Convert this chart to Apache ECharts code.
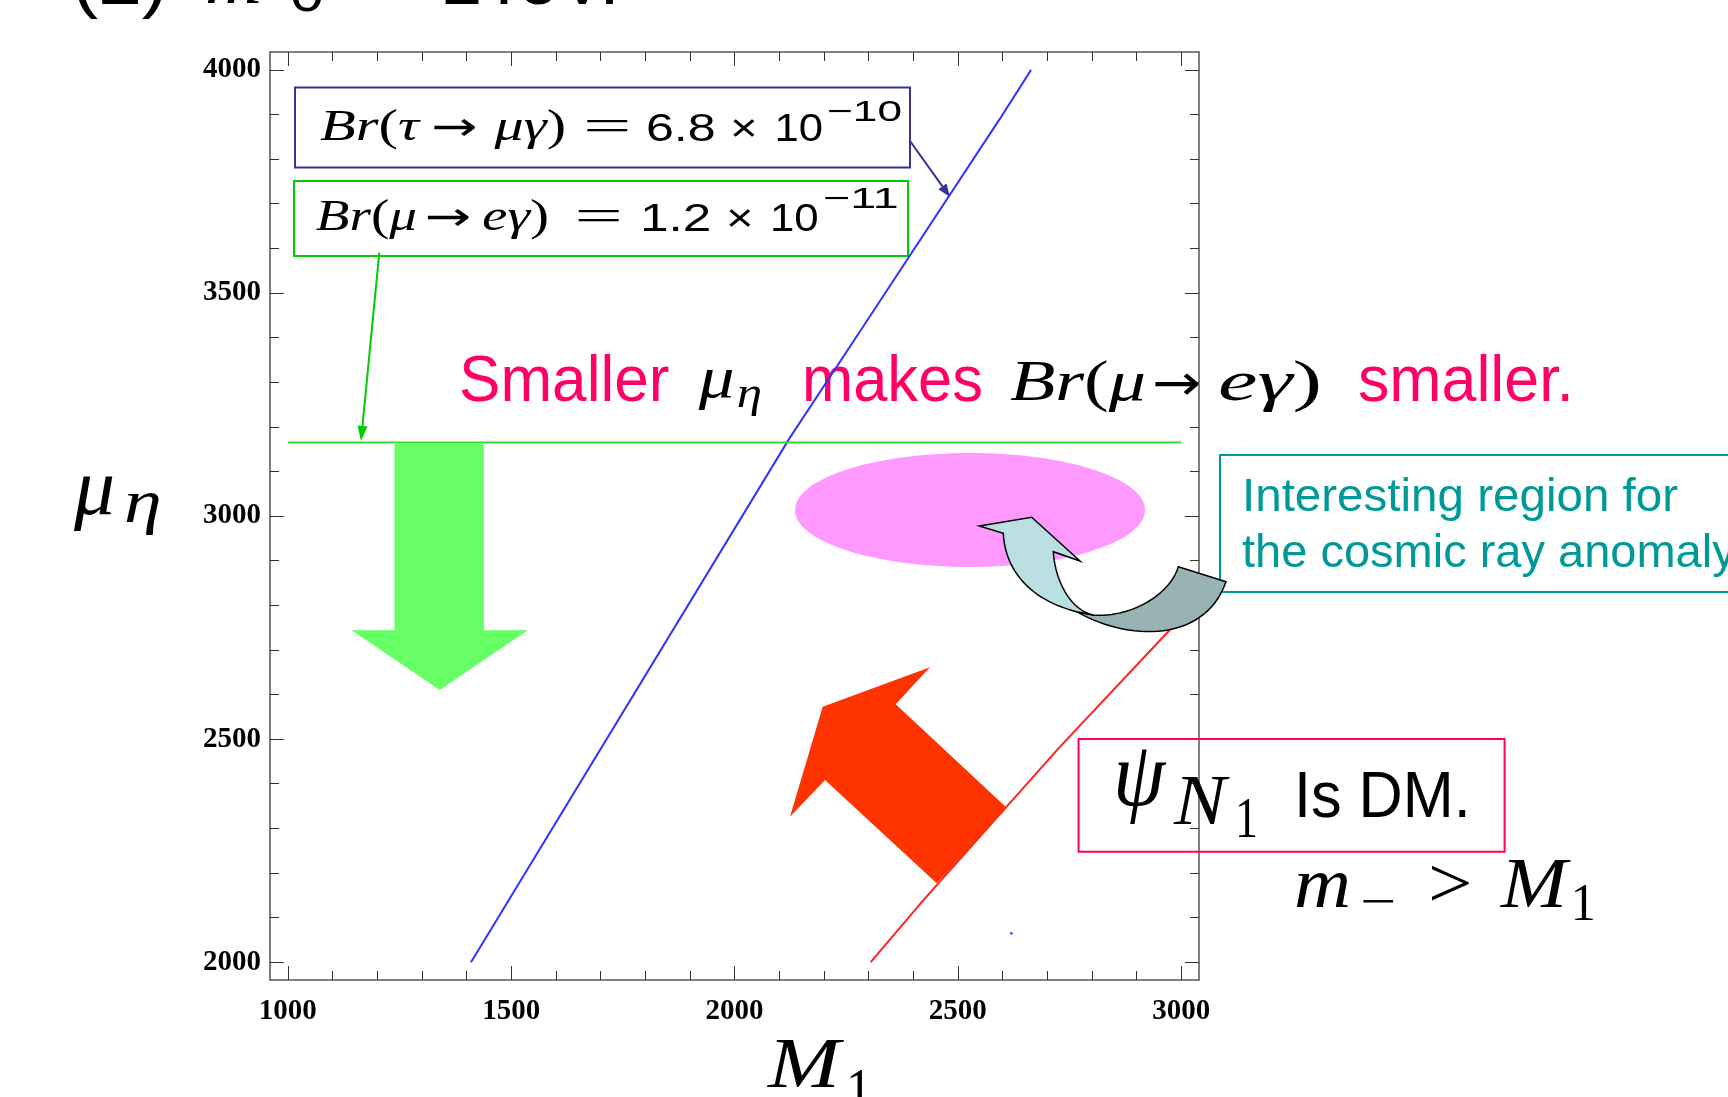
<!DOCTYPE html>
<html>
<head>
<meta charset="utf-8">
<script src="https://cdn.jsdelivr.net/npm/echarts@6/dist/echarts.min.js"></script>
<style>
  html, body { margin: 0; padding: 0; background: #fff; }
  #chart { width: 1728px; height: 1097px; }
</style>
</head>
<body>
<div id="chart"></div>
<script>
// Contour curves in the (M1, mu_eta) plane, in GeV
const blueM1 = [1410, 2123, 2283, 2594, 2664];   // Br(tau -> mu gamma) = 6.8e-10
const blueMu = [2000, 3174, 3417, 3890, 4000];
const redM1 = [2305, 2423, 2729, 2975, 3000];    // m_- = M1 boundary
const redMu = [2000, 2139, 2483, 2745, 2772];
const greenM1 = [1000, 3000];                    // Br(mu -> e gamma) = 1.2e-11
const greenMu = [3165, 3165];
const dotM1 = [2620];
const dotMu = [2065];

const m1Ticks = [1000, 1500, 2000, 2500, 3000];
const muTicks = [2000, 2500, 3000, 3500, 4000];

function minorTicks(lo, hi, step, majors) {
  const out = [];
  for (let v = lo; v <= hi; v += step) if (majors.indexOf(v) < 0) out.push(v);
  return out;
}
const m1Minor = minorTicks(1000, 3000, 100, m1Ticks);
const muMinor = minorTicks(2000, 4000, 100, muTicks);

const SERIF = '"Liberation Serif", "Times New Roman", serif';
const SANS = '"Liberation Sans", Arial, sans-serif';
const DEJAVU = '"DejaVu Sans", sans-serif';
const ctx = document.createElement('canvas').getContext('2d');
function fontOf(kind, size) {
  if (kind === 'i') return 'italic ' + size + 'px ' + SERIF;
  if (kind === 'r') return size + 'px ' + SERIF;
  if (kind === 'd') return size + 'px ' + DEJAVU;
  return size + 'px ' + SANS;
}
function measure(t, font) { ctx.font = font; return ctx.measureText(t).width; }

const graphics = [];
// Lay out a run of text pieces from x0 (optionally stretched to end at x1) on a baseline.
function run(x0, x1, base, size, parts, color, z) {
  const ws = parts.map(p => measure(p[0], fontOf(p[1], size)));
  const total = ws.reduce((a, b) => a + b, 0);
  const k = x1 ? (x1 - x0) / total : 1;
  let cx = x0;
  parts.forEach((p, i) => {
    graphics.push({
      type: 'text', x: cx, y: base - 0.3 * size, scaleX: k, z: z || 1,
      style: {
        text: p[0], font: fontOf(p[1], size), fill: color || '#000',
        align: 'left', verticalAlign: 'middle', textAlign: 'left', textVerticalAlign: 'middle'
      }
    });
    cx += ws[i] * k;
  });
}

function rect(x, y, w, h, color, lw) {
  graphics.push({ type: 'rect', z: 1, shape: { x: x, y: y, width: w, height: h },
    style: { fill: 'none', stroke: color, lineWidth: lw || 2 } });
}
function leader(x0, y0, x1, y1, color, headLen, headW) {
  const dx = x1 - x0, dy = y1 - y0, L = Math.hypot(dx, dy);
  const ux = dx / L, uy = dy / L;
  const bx = x1 - ux * headLen, by = y1 - uy * headLen;
  graphics.push({ type: 'line', z: 4, shape: { x1: x0, y1: y0, x2: bx, y2: by },
    style: { stroke: color, lineWidth: 2 } });
  graphics.push({ type: 'polygon', z: 4, shape: { points: [[x1, y1],
    [bx - uy * headW, by + ux * headW], [bx + uy * headW, by - ux * headW]] },
    style: { fill: color } });
}
function cubic(p0, p1, p2, p3, n) {
  const pts = [];
  for (let i = 1; i <= n; i++) {
    const t = i / n, s = 1 - t;
    pts.push([s*s*s*p0[0] + 3*s*s*t*p1[0] + 3*s*t*t*p2[0] + t*t*t*p3[0],
              s*s*s*p0[1] + 3*s*s*t*p1[1] + 3*s*t*t*p2[1] + t*t*t*p3[1]]);
  }
  return pts;
}

// Heading (runs off the top edge)
run(72, 168, 6, 72, [['(2)', 's']], '#000');
run(205, 262, 6, 72, [['m', 'i']], '#000');
run(290, 324, 12, 52, [['0', 's']], '#000');
run(380, null, 6, 72, [['= 2TeV.', 's']], '#000');

// Annotation boxes for the two LFV bounds
rect(295, 87.5, 615, 80, '#333399', 2);
rect(294, 181, 614, 75, '#00cc00', 2);
run(320, 419, 141.7, 45, [['B', 'i'], ['r', 'i'], ['(', 'r'], ['τ', 'i']]);
run(431.5, 477.8, 141.7, 40, [['→', 'd']]);
run(494.6, 566, 141.7, 45, [['μ', 'i'], ['γ', 'i'], [')', 'r']]);
run(583, 631.4, 141.7, 45, [['=', 'r']]);
run(646, 715.6, 141.7, 38, [['6.8', 's']]);
run(730, 757.7, 141.7, 38, [['×', 's']]);
run(774.5, 823, 141.7, 38, [['10', 's']]);
run(827, 902, 121.7, 30, [['−10', 's']]);

run(315.8, 417, 231.7, 45, [['B', 'i'], ['r', 'i'], ['(', 'r'], ['μ', 'i']]);
run(425, 471.5, 231.7, 40, [['→', 'd']]);
run(482, 549, 231.7, 45, [['e', 'i'], ['γ', 'i'], [')', 'r']]);
run(574.6, 623, 231.7, 45, [['=', 'r']]);
run(640, 711.4, 231.7, 38, [['1.2', 's']]);
run(726, 753.5, 231.7, 38, [['×', 's']]);
run(770, 818.7, 231.7, 38, [['10', 's']]);
run(823, 898.7, 208.3, 30, [['−11', 's']]);

leader(910, 141, 950, 197, '#333399', 13, 5);
leader(379.3, 252.7, 361, 441, '#00cc00', 15, 5);

// Message line
const PINK = '#ff0066';
run(459, 669.4, 402.7, 64, [['Smaller', 's']], PINK);
run(698.8, 734.6, 399, 60, [['μ', 'i']]);
run(736.7, 762, 409, 44, [['η', 'i']]);
run(802, 983, 402.7, 64, [['makes', 's']], PINK);
run(1010, 1146, 401.7, 58, [['B', 'i'], ['r', 'i'], ['(', 'r'], ['μ', 'i']]);
run(1152, 1201, 401.7, 50, [['→', 'd']]);
run(1218, 1322, 401.7, 58, [['e', 'i'], ['γ', 'i'], [')', 'r']]);
run(1358, 1574, 402.7, 64, [['smaller.', 's']], PINK);

// Highlighted region and the curved pointer into it
graphics.push({ type: 'ellipse', z: 1, shape: { cx: 970, cy: 510, rx: 175, ry: 57 },
  style: { fill: '#ff99ff' } });
rect(1220, 455, 600, 137, '#009999', 2);
run(1242, 1678, 511.7, 47, [['Interesting region for', 's']], '#009999');
run(1242, null, 568.3, 47, [['the cosmic ray anomaly', 's']], '#009999');

const darkPts = [[1076.7, 611.7]]
  .concat(cubic([1076.7, 611.7], [1130, 642], [1205, 642], [1226, 581.7], 30))
  .concat([[1178.3, 566.7]])
  .concat(cubic([1178.3, 566.7], [1170, 595], [1130, 618], [1093.3, 615], 30));
graphics.push({ type: 'polygon', z: 10, shape: { points: darkPts },
  style: { fill: '#97b3b3', stroke: '#000', lineWidth: 1.5 } });
const lightPts = [[1003.3, 533.3]]
  .concat(cubic([1003.3, 533.3], [1005, 570], [1030, 600], [1076.7, 611.7], 30))
  .concat([[1093.3, 615]])
  .concat(cubic([1093.3, 615], [1070, 610], [1055, 580], [1053.3, 551.7], 30))
  .concat([[1080, 561], [1031.7, 517.3], [979.3, 526]]);
graphics.push({ type: 'polygon', z: 11, shape: { points: lightPts },
  style: { fill: '#b9dfe2', stroke: '#000', lineWidth: 1.5 } });

// Big direction arrows
graphics.push({ type: 'polygon', z: 1, shape: { points: [[394.5, 444], [483.8, 444], [483.8, 630.3],
  [527.9, 630.3], [439.7, 689.9], [351.5, 630.3], [394.5, 630.3]] }, style: { fill: '#66ff66' } });
graphics.push({ type: 'polygon', z: 3, shape: { points: [[822.7, 706.7], [930, 667.3], [895.7, 704.3],
  [1006.7, 807.7], [936.7, 883.3], [825, 780], [790, 816.7]] }, style: { fill: '#ff3300' } });

// Dark matter condition box
rect(1078.6, 739, 426, 112.7, PINK, 2);
run(1113, 1165, 808, 90, [['ψ', 'i']]);
run(1174, 1226, 827, 72, [['N', 'i']]);
run(1235, 1258, 839, 56, [['1', 'r']]);
run(1294, 1470.7, 819, 64, [['Is DM.', 's']]);
run(1294, 1351, 910, 72, [['m', 'i']]);
run(1360, 1396, 920, 50, [['−', 'r']]);
run(1428, 1472.5, 910, 72, [['>', 'r']]);
run(1501, 1567, 910, 72, [['M', 'i']]);
run(1570.7, 1595.7, 922, 52, [['1', 'r']]);

// Axis titles
run(768, 840, 1090, 72, [['M', 'i']]);
run(846, 872, 1112, 62, [['1', 'r']]);
run(74, 115, 517, 80, [['μ', 'i']]);
run(124, 161.7, 524, 62, [['η', 'i']]);

const labelFont = { fontFamily: SERIF, fontWeight: 'bold', fontSize: 29, color: '#000' };
function xAx(pos, vals, len, labels) {
  return {
    type: 'value', gridIndex: 0, position: pos, min: 960, max: 3040,
    axisLine: { show: false }, splitLine: { show: false },
    axisTick: { show: true, inside: true, length: len, customValues: vals, lineStyle: { color: '#333', width: 1 } },
    axisLabel: Object.assign({ show: labels, customValues: vals, margin: 17, formatter: v => String(v) }, labelFont)
  };
}
function yAx(pos, vals, len, labels) {
  return {
    type: 'value', gridIndex: 0, position: pos, min: 1960, max: 4040,
    axisLine: { show: false }, splitLine: { show: false },
    axisTick: { show: true, inside: true, length: len, customValues: vals, lineStyle: { color: '#333', width: 1 } },
    axisLabel: Object.assign({ show: labels, customValues: vals, margin: 9, padding: [4, 0, 0, 0],
      formatter: v => String(v) }, labelFont)
  };
}

function pairs(xs, ys) { return xs.map((x, i) => [x, ys[i]]); }

const chart = echarts.init(document.getElementById('chart'), null, { renderer: 'canvas' });
chart.setOption({
  animation: false,
  backgroundColor: '#fff',
  grid: { left: 270, top: 52, width: 929, height: 928, show: true, borderColor: '#555', borderWidth: 1.5,
    backgroundColor: 'transparent', containLabel: false },
  xAxis: [xAx('bottom', m1Ticks, 14, true), xAx('bottom', m1Minor, 9, false),
          xAx('top', m1Ticks, 14, false), xAx('top', m1Minor, 9, false)],
  yAxis: [yAx('left', muTicks, 14, true), yAx('left', muMinor, 9, false),
          yAx('right', muTicks, 14, false), yAx('right', muMinor, 9, false)],
  series: [
    { type: 'line', xAxisIndex: 0, yAxisIndex: 0, data: pairs(blueM1, blueMu), symbol: 'none', z: 2,
      lineStyle: { color: '#3333ff', width: 2 } },
    { type: 'line', xAxisIndex: 0, yAxisIndex: 0, data: pairs(redM1, redMu), symbol: 'none', z: 2,
      lineStyle: { color: '#ff2222', width: 2 } },
    { type: 'line', xAxisIndex: 0, yAxisIndex: 0, data: pairs(greenM1, greenMu), symbol: 'none', z: 2,
      lineStyle: { color: '#33dd33', width: 2 } },
    { type: 'scatter', xAxisIndex: 0, yAxisIndex: 0, data: pairs(dotM1, dotMu), symbolSize: 3, z: 2,
      itemStyle: { color: '#3333ff' } }
  ],
  graphic: { elements: graphics }
});
</script>
</body>
</html>
